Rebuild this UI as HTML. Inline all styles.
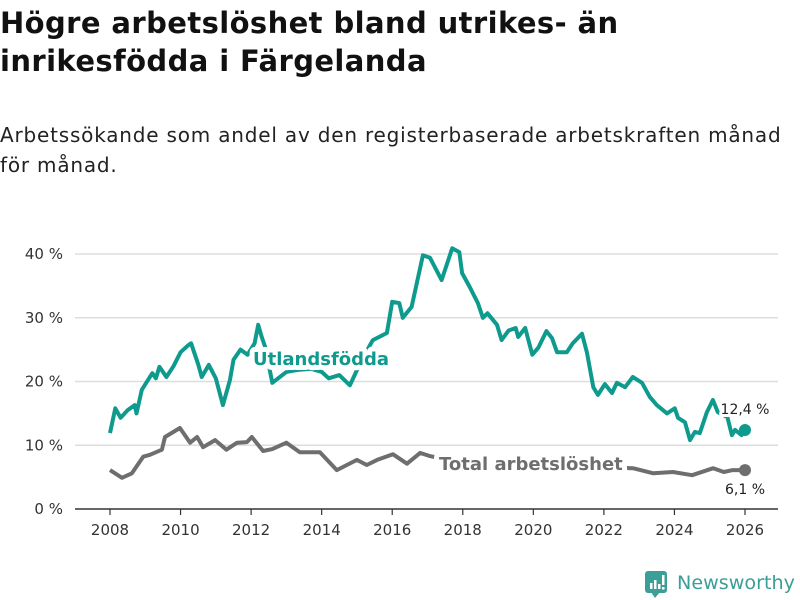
<!DOCTYPE html>
<html><head><meta charset="utf-8"><style>
body{margin:0;width:800px;height:600px;background:#fff;font-family:"Liberation Sans","DejaVu Sans",sans-serif;overflow:hidden;position:relative;color:#111}
#title{position:absolute;left:0;top:4px;font-size:29px;font-weight:bold;line-height:38px;margin:0;width:800px;font-family:"DejaVu Sans",sans-serif;letter-spacing:0.4px;white-space:nowrap}
#sub{position:absolute;left:0;top:120px;font-size:20px;line-height:30px;margin:0;width:800px;font-family:"DejaVu Sans",sans-serif;letter-spacing:0.8px;color:#222;white-space:nowrap}
svg{position:absolute;left:0;top:0}
</style></head><body>
<h1 id="title">Högre arbetslöshet bland utrikes- än<br>inrikesfödda i Färgelanda</h1>
<p id="sub">Arbetssökande som andel av den registerbaserade arbetskraften månad<br>för månad.</p>
<svg id="chart" width="800" height="600"></svg>
<script>
const utlYears=[2008,2008.15,2008.3,2008.5,2008.7,2008.75,2008.9,2009.2,2009.3,2009.4,2009.6,2009.8,2010,2010.2,2010.3,2010.5,2010.6,2010.8,2011,2011.2,2011.4,2011.5,2011.7,2011.9,2012.1,2012.2,2012.3,2012.4,2012.6,2013,2013.3,2013.7,2014,2014.2,2014.5,2014.8,2015.1,2015.45,2015.85,2016,2016.2,2016.3,2016.55,2016.87,2017.07,2017.4,2017.7,2017.9,2017.98,2018.2,2018.43,2018.57,2018.7,2018.97,2019.1,2019.3,2019.5,2019.57,2019.77,2019.97,2020.14,2020.37,2020.53,2020.67,2020.95,2021.12,2021.38,2021.52,2021.7,2021.83,2022.03,2022.23,2022.37,2022.6,2022.82,2023.08,2023.3,2023.5,2023.79,2024.01,2024.1,2024.3,2024.44,2024.58,2024.72,2024.92,2025.09,2025.23,2025.5,2025.63,2025.72,2025.9,2026];
const utlValues=[11.9,15.8,14.3,15.5,16.3,15,18.7,21.3,20.5,22.3,20.7,22.4,24.6,25.6,26,22.7,20.7,22.6,20.5,16.3,20.2,23.4,25,24.2,26,28.9,27,25.4,19.8,21.5,21.8,22,21.5,20.5,21,19.4,23,26.5,27.6,32.5,32.3,30,31.7,39.8,39.4,35.9,40.9,40.3,37,34.8,32.3,30,30.7,28.9,26.5,28,28.4,27,28.4,24.2,25.3,27.9,26.8,24.6,24.6,26,27.5,24.5,19.1,17.9,19.6,18.2,19.8,19.1,20.7,19.8,17.6,16.3,15,15.8,14.3,13.6,10.8,12.1,11.9,15.2,17.1,15.2,14.4,11.6,12.4,11.6,12.4];
const totYears=[2008,2008.34,2008.62,2008.94,2009.13,2009.47,2009.56,2009.98,2010.27,2010.47,2010.64,2010.98,2011.3,2011.6,2011.88,2012.02,2012.34,2012.6,2013,2013.38,2013.95,2014.43,2015,2015.28,2015.57,2016.02,2016.42,2016.79,2017.07,2017.5,2018.5,2019.5,2020.5,2021.5,2022.3,2022.82,2023.4,2023.96,2024.5,2025.1,2025.4,2025.65,2026];
const totValues=[6.1,4.9,5.6,8.2,8.5,9.3,11.3,12.7,10.4,11.3,9.7,10.8,9.3,10.4,10.5,11.3,9.1,9.4,10.4,8.9,8.9,6.1,7.7,6.9,7.7,8.6,7.1,8.8,8.3,7.8,7,6.5,8,7,6.5,6.4,5.6,5.8,5.3,6.4,5.8,6.1,6.1];
const yTicks=[0,10,20,30,40];
const xTicks=[2008,2010,2012,2014,2016,2018,2020,2022,2024,2026];
const lastUtl="12,4 %", lastTot="6,1 %";

const NS="http://www.w3.org/2000/svg";
const svg=document.getElementById('chart');
const X=y=>110+(y-2008)*(635/18);
const Y=v=>509-v*6.375;
function mk(tag,attrs,parent){const e=document.createElementNS(NS,tag);for(const k in attrs)e.setAttribute(k,attrs[k]);(parent||svg).appendChild(e);return e;}
yTicks.forEach(t=>{
  if(t>0){const g=mk('line',{x1:75,x2:778,y1:Y(t),y2:Y(t),stroke:'#ddd','stroke-width':1.5});
  
  }
  const l=mk('text',{x:63,y:Y(t)+5,'text-anchor':'end','font-size':15,fill:'#333','font-family':'DejaVu Sans, sans-serif'});
  l.textContent=t+' %';
  
  
});
const ax=mk('line',{x1:75,x2:778,y1:509,y2:509,stroke:'#333','stroke-width':1.5});


xTicks.forEach(t=>{
  const tk=mk('line',{x1:X(t),x2:X(t),y1:509,y2:515,stroke:'#333','stroke-width':1.2});
  
  
  const l=mk('text',{x:X(t),y:535,'text-anchor':'middle','font-size':15,fill:'#333','font-family':'DejaVu Sans, sans-serif'});
  l.textContent=t;
  
  
});
function line(xs,vs,color,name){
  const d=xs.map((x,i)=>(i?'L':'M')+X(x).toFixed(1)+','+Y(vs[i]).toFixed(1)).join('');
  const p=mk('path',{d:d,fill:'none',stroke:color,'stroke-width':4,'stroke-linejoin':'round'});
  
  
  const c=mk('circle',{cx:X(xs[xs.length-1]),cy:Y(vs[vs.length-1]),r:6,fill:color});
  
  
}
line(totYears,totValues,'#6e6e6e','total-line');
line(utlYears,utlValues,'#0f9a8e','utlandsfodda-line');
function lab(x,y,txt,color,size,bold,name,anchor){
  const t=mk('text',{x:x,y:y,fill:color,'font-size':size,'font-weight':bold?'bold':'normal',stroke:'#fff','stroke-width':bold?10:6,'paint-order':'stroke','stroke-linejoin':'round','font-family':'DejaVu Sans, sans-serif','text-anchor':anchor||'start'});
  t.textContent=txt;
  
  
}
lab(253,365,'Utlandsfödda','#0f9a8e',18,true,'utlandsfodda-label');
lab(439,470,'Total arbetslöshet','#6e6e6e',18,true,'total-label');
lab(745,414,lastUtl,'#222',14,false,'utlandsfodda-value-label','middle');
lab(745,494,lastTot,'#222',14,false,'total-value-label','middle');
</script>
<svg width="800" height="600" style="pointer-events:none">
<rect x="645" y="571" width="22" height="22" rx="3" fill="#3a9f96"/>
<polygon points="651,592 660,592 655,598" fill="#3a9f96"/>
<rect x="650" y="583" width="2.5" height="6" fill="#fff"/><rect x="654" y="580" width="2.5" height="9" fill="#fff"/><rect x="658" y="584" width="2.5" height="5" fill="#fff"/><rect x="662" y="575" width="2.5" height="10" fill="#fff"/><rect x="662" y="587" width="2.5" height="2.5" fill="#fff"/>
<text x="677" y="589" font-size="19" fill="#3a9f96" font-family="DejaVu Sans, sans-serif" textLength="118" lengthAdjust="spacingAndGlyphs">Newsworthy</text>
</svg>
</body></html>
